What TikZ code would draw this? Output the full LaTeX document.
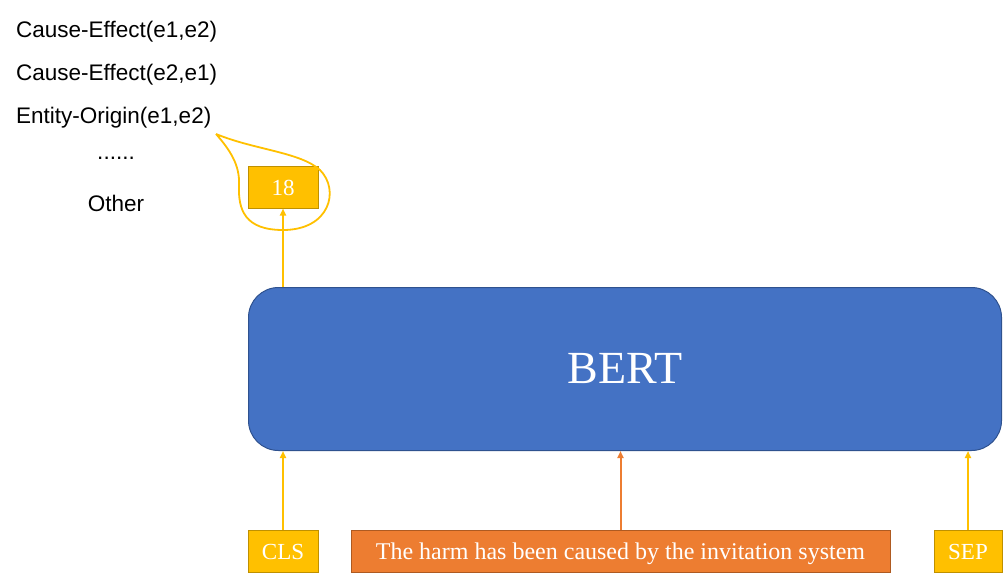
\documentclass[tikz,border=0pt]{standalone}
\usepackage{fontspec}
\setmainfont{Liberation Serif}
\newfontfamily\labfont{Liberation Sans}
\usetikzlibrary{arrows.meta}
\definecolor{bertblue}{HTML}{4472C4}
\definecolor{bertedge}{HTML}{2F528F}
\definecolor{gold}{HTML}{FFC000}
\definecolor{goldedge}{HTML}{BF9000}
\definecolor{orng}{HTML}{ED7D31}
\definecolor{orngedge}{HTML}{AE5A21}
\tikzset{
  x=1pt, y=-1pt,
  tok/.style={draw=goldedge, fill=gold, line width=1pt, text=white, inner sep=0pt,
    text height=19pt, text depth=2pt, font=\fontsize{23}{25}\selectfont},
  sent/.style={draw=orngedge, fill=orng, line width=1pt, text=white, inner sep=0pt,
    text height=19pt, text depth=2pt, font=\fontsize{24}{26}\selectfont},
  lbl/.style={font=\labfont\fontsize{22.5}{24}\selectfont, inner sep=0pt},
  yarr/.style={draw=gold, line width=2pt, -{Triangle[length=7pt,width=6pt]}},
  oarr/.style={draw=orng, line width=2pt, -{Triangle[length=7pt,width=6pt]}},
}
\begin{document}
\begin{tikzpicture}
\useasboundingbox (0,0) rectangle (1003,581);
% BERT
\node[draw=bertedge, fill=bertblue, line width=1pt, rounded corners=30pt,
      minimum width=753pt, minimum height=163pt, inner sep=0pt,
      text=white, font=\fontsize{46}{50}\selectfont] (bert) at (625,369) {BERT};
% output
\node[tok, minimum width=70pt, minimum height=42pt] (out) at (283,187) {18};
% inputs
\node[tok, minimum width=70pt, minimum height=42pt] (cls) at (283,551) {CLS};
\node[sent, minimum width=539pt, minimum height=42pt] (sen) at (620.5,551) {The harm has been caused by the invitation system};
\node[tok, minimum width=68pt, minimum height=42pt] (sep) at (968,551) {SEP};
% arrows
\draw[yarr] (bert.north -| out) -- (out.south);
\draw[yarr] (cls.north) -- (cls.north |- bert.south);
\draw[oarr] (sen.north) -- (sen.north |- bert.south);
\draw[yarr] (sep.north) -- (sep.north |- bert.south);
% labels
\node[lbl, anchor=west] (l1) at (16,32) {Cause-Effect(e1,e2)};
\node[lbl, anchor=west] (l2) at (16,75) {Cause-Effect(e2,e1)};
\node[lbl, anchor=west] (l3) at (16,118) {Entity-Origin(e1,e2)};
\node[lbl] (l4) at (116,158) {......};
\node[lbl] (l5) at (116,203) {Other};
% callout
\coordinate (tip) at (216,134);
\draw[gold, line width=1.8pt] (tip) .. controls (255,150) and (300,152) .. (320,170)
  .. controls (340,190) and (330,230) .. (283,230)
  .. controls (245,230) and (238,210) .. (239,185)
  .. controls (240,165) and (230,150) .. (tip);
\end{tikzpicture}
\end{document}
